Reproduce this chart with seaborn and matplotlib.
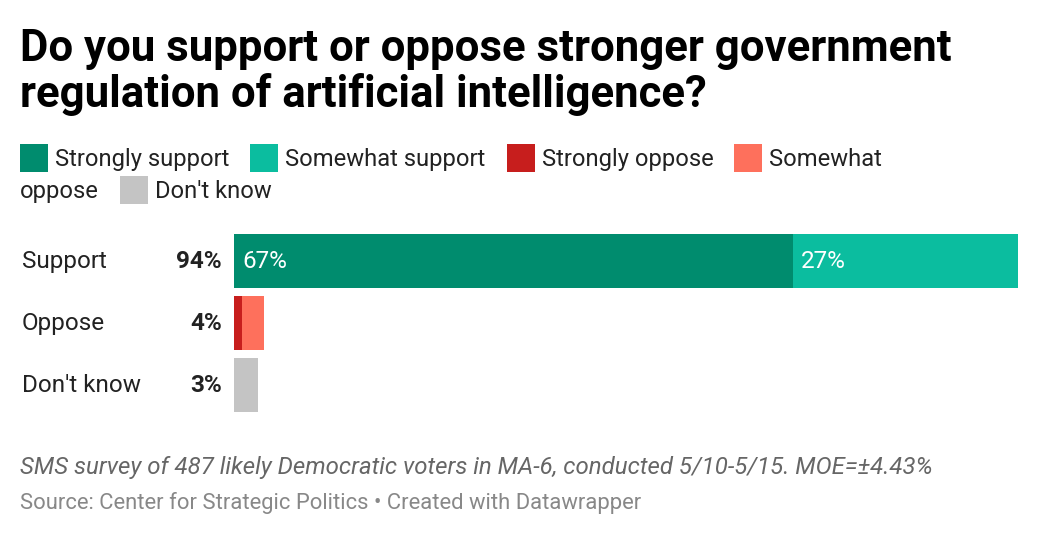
import matplotlib
matplotlib.use("Agg")
import matplotlib.pyplot as plt
import matplotlib.patches as mpatches
import matplotlib.transforms as mtransforms
import numpy as np
import pandas as pd
import seaborn as sns

# data
categories = ["Support", "Oppose", "Don't know"]
segments = ["Strongly support", "Somewhat support", "Strongly oppose", "Somewhat oppose", "Don't know"]
seg_colors = ["#008c6e", "#0bbd9f", "#c71e1d", "#fe705c", "#c4c4c4"]
support_vals = [67, 27, 0, 0, 0]
oppose_vals = [0, 0, 1.0, 2.6, 0]
dontknow_vals = [0, 0, 0, 0, 2.9]
total_labels = ["94%", "4%", "3%"]
segment_labels = {("Support", "Strongly support"): "67%",
                  ("Support", "Somewhat support"): "27%"}

title_lines = ["Do you support or oppose stronger government",
               "regulation of artificial intelligence?"]
note = "SMS survey of 487 likely Democratic voters in MA-6, conducted 5/10-5/15. MOE=\u00b14.43%"
source = "Source: Center for Strategic Politics \u2022 Created with Datawrapper"

W, H = 1040, 538
sns.set_theme(style="white")
plt.rcParams["font.family"] = ["Roboto", "DejaVu Sans"]

# long table: right edge of each segment (stacked via overlay)
rows = []
for cat, vals in zip(categories, [support_vals, oppose_vals, dontknow_vals]):
    cum = np.cumsum(vals)
    for seg, v, c in zip(segments, vals, cum):
        if v > 0:
            rows.append({"category": cat, "segment": seg, "value": v,
                         "left": c - v, "right": c})
df = pd.DataFrame(rows)

fig = plt.figure(figsize=(W / 100, H / 100), dpi=100)
ax = fig.add_axes([234 / W, 1 - 412 / H, 784 / W, 178 / H])

sns.barplot(data=df, x="right", y="category", hue="segment",
            hue_order=segments[::-1], palette=dict(zip(segments, seg_colors)),
            order=categories, orient="h", dodge=False, width=54 / 62,
            saturation=1, errorbar=None, legend=False, linewidth=0, ax=ax)
ax.set_xlim(0, 94)
ax.set_ylim(2 + 0.5 * 54 / 62, -0.5 * 54 / 62)
ax.axis("off")

to_pt = 72 / 100
lab_size = 17.5
# labels inside bars
for _, r in df.iterrows():
    lab = segment_labels.get((r["category"], r["segment"]))
    if lab:
        yi = categories.index(r["category"])
        ax.annotate(lab, xy=(r["left"], yi), xytext=(8 * to_pt, -7 * to_pt),
                    textcoords="offset points", ha="left", va="baseline",
                    color="white", fontsize=lab_size)

# category names and totals
blend = mtransforms.blended_transform_factory(fig.transFigure, ax.transData)
for i, (cat, tot) in enumerate(zip(categories, total_labels)):
    ax.annotate(cat, xy=(22 / W, i), xycoords=blend, xytext=(0, -7 * to_pt),
                textcoords="offset points", ha="left", va="baseline",
                color="#222222", fontsize=lab_size)
    ax.annotate(tot, xy=(222 / W, i), xycoords=blend, xytext=(0, -7 * to_pt),
                textcoords="offset points", ha="right", va="baseline",
                color="#222222", fontsize=lab_size, fontweight="bold")

# title
fig.text(20 / W, 1 - 61 / H, title_lines[0], fontsize=31.5, fontweight="bold",
         color="#000000", va="baseline", ha="left")
fig.text(20 / W, 1 - 107 / H, title_lines[1], fontsize=31.5, fontweight="bold",
         color="#000000", va="baseline", ha="left")

# legend, laid out like a wrapping html legend
renderer = fig.canvas.get_renderer()
leg_font = dict(fontsize=17.1, color="#222222", va="baseline", ha="left")


def text_w(s):
    t = fig.text(0, 0, s, **leg_font)
    w = t.get_window_extent(renderer).width
    t.remove()
    return w


limit = 940
x, base = 20, 166
for name, col in zip(segments, seg_colors):
    words = name.split()
    if x + 35 + text_w(words[0]) > limit:
        x, base = 20, base + 32
    fig.add_artist(mpatches.Rectangle((x / W, 1 - (base + 6) / H), 28 / W, 28 / H,
                                      transform=fig.transFigure, color=col, lw=0))
    x += 35
    while words:
        n = len(words)
        while n > 1 and x + text_w(" ".join(words[:n])) > limit:
            n -= 1
        chunk = " ".join(words[:n])
        fig.text(x / W, 1 - base / H, chunk, **leg_font)
        x += text_w(chunk)
        words = words[n:]
        if words:
            x, base = 20, base + 32
    x += 21

# footer
fig.text(20 / W, 1 - 474 / H, note, fontsize=17.3, style="italic", color="#666666",
         va="baseline", ha="left")
fig.text(20 / W, 1 - 509 / H, source, fontsize=15.85, color="#888888",
         va="baseline", ha="left")

fig.savefig("out.png", dpi=100, facecolor="white")
